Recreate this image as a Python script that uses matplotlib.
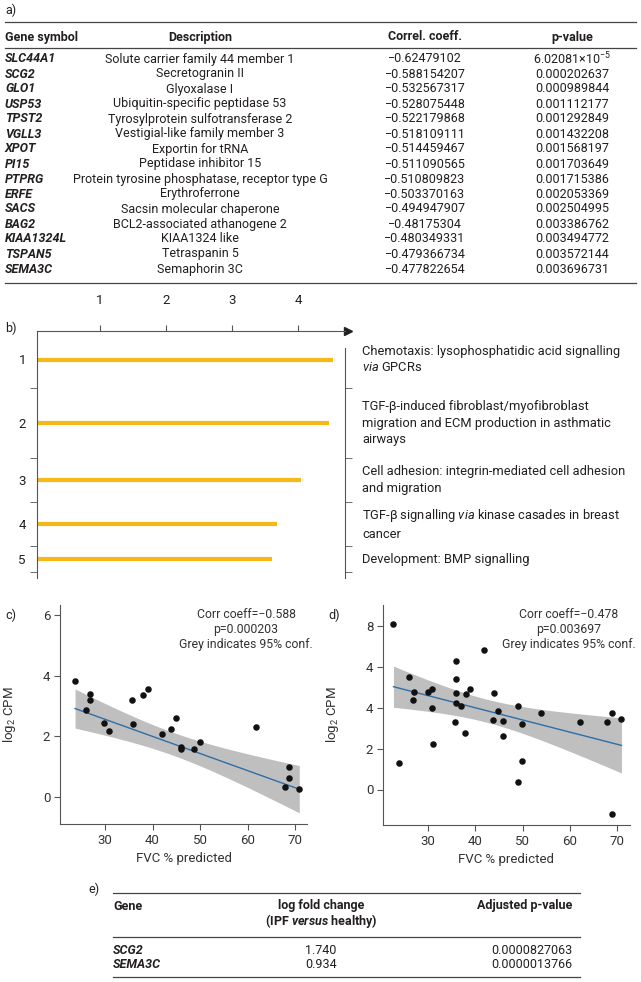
import numpy as np
import matplotlib
matplotlib.use("Agg")
import matplotlib.pyplot as plt
from matplotlib.lines import Line2D

plt.rcParams['font.family'] = ['Roboto', 'DejaVu Sans']
plt.rcParams['mathtext.fontset'] = 'custom'
plt.rcParams['mathtext.rm'] = 'Roboto'
plt.rcParams['mathtext.it'] = 'Roboto:italic'
plt.rcParams['mathtext.bf'] = 'Roboto:bold'
plt.rcParams['mathtext.bfit'] = 'Roboto:italic:bold'

W, H = 641, 982
INK = '#231f20'
AXC = '#555555'
GOLD = '#f5b816'
BLUE = '#2f6ea6'
BAND = '#bfbfbf'

#
# a) genes correlated with FVC
#
a_genes = ['SLC44A1', 'SCG2', 'GLO1', 'USP53', 'TPST2', 'VGLL3', 'XPOT', 'PI15',
           'PTPRG', 'ERFE', 'SACS', 'BAG2', 'KIAA1324L', 'TSPAN5', 'SEMA3C']
a_desc = ['Solute carrier family 44 member 1', 'Secretogranin II', 'Glyoxalase I',
          'Ubiquitin-specific peptidase 53', 'Tyrosylprotein sulfotransferase 2',
          'Vestigial-like family member 3', 'Exportin for tRNA', 'Peptidase inhibitor 15',
          'Protein tyrosine phosphatase, receptor type G', 'Erythroferrone',
          'Sacsin molecular chaperone', 'BCL2-associated athanogene 2', 'KIAA1324 like',
          'Tetraspanin 5', 'Semaphorin 3C']
a_coeff = ['\u22120.62479102', '\u22120.588154207', '\u22120.532567317', '\u22120.528075448',
           '\u22120.522179868', '\u22120.518109111', '\u22120.514459467', '\u22120.511090565',
           '\u22120.510809823', '\u22120.503370163', '\u22120.494947907', '\u22120.48175304',
           '\u22120.480349331', '\u22120.479366734', '\u22120.477822654']
a_pval = ['6.02081\u00d710$^{\u22125}$', '0.000202637', '0.000989844', '0.001112177',
          '0.001292849', '0.001432208', '0.001568197', '0.001703649', '0.001715386',
          '0.002053369', '0.002504995', '0.003386762', '0.003494772', '0.003572144',
          '0.003696731']

#
# b) enriched pathways
#
b_scores = [4.53, 4.47, 4.05, 3.68, 3.61]
b_ranks = ['1', '2', '3', '4', '5']
b_terms = ['Chemotaxis: lysophosphatidic acid signalling\n$\\mathit{via}$ GPCRs',
           'TGF-\u03b2-induced fibroblast/myofibroblast\nmigration and ECM production in asthmatic\nairways',
           'Cell adhesion: integrin-mediated cell adhesion\nand migration',
           'TGF-\u03b2 signalling $\\mathit{via}$ kinase casades in breast\ncancer',
           'Development: BMP signalling']
b_xticks = [1, 2, 3, 4]

#
# c) SCG2 vs FVC
#
c_fvc = [23.7, 26.0, 26.8, 26.8, 29.8, 30.9, 35.6, 35.9, 37.9, 39.1, 42.0,
         43.8, 44.9, 46.0, 46.0, 48.8, 49.9, 61.8, 68.8, 68.8, 67.9, 70.9]
c_cpm = [3.83, 2.86, 3.39, 3.20, 2.45, 2.17, 3.21, 2.41, 3.36, 3.55, 2.09,
         2.25, 2.62, 1.66, 1.58, 1.59, 1.83, 2.31, 1.00, 0.63, 0.32, 0.26]
# fitted line (slope, intercept) and residual sd
c_fit = [-0.0564, 4.256]
c_sd = 0.85
c_text = 'Corr coeff=\u22120.588\np=0.000203\nGrey indicates 95% conf.'
c_yticks = [0, 2, 4, 6]
c_ylabels = ['0', '2', '4', '6']

#
# d) SEMA3C vs FVC
#
d_fvc = [22.7, 23.9, 25.9, 27.0, 26.9, 29.9, 30.8, 30.8, 31.0, 35.9, 35.9, 35.9,
         35.9, 35.8, 37.0, 37.8, 38.0, 38.9, 41.9, 43.9, 43.8, 44.9, 45.9, 45.8,
         49.0, 49.8, 49.9, 49.0, 53.8, 62.1, 67.8, 68.9, 70.9, 69.0]
d_cpm = [8.10, 1.30, 5.51, 4.76, 4.40, 4.80, 4.94, 4.01, 2.23, 6.31, 5.40, 4.71,
         4.26, 3.31, 4.08, 2.77, 4.67, 4.91, 6.84, 4.75, 3.41, 3.85, 3.34, 2.64,
         4.09, 3.19, 1.41, 0.37, 3.73, 3.29, 3.32, 3.77, 3.44, -1.22]
d_fit = [-0.0597, 6.394]
d_sd = 1.62
d_text = 'Corr coeff=\u22120.478\np=0.003697\nGrey indicates 95% conf.'
d_yticks = [0, 2, 4, 6, 8]
d_ylabels = ['0', '2', '4', '4', '8']

fvc_ticks = [30, 40, 50, 60, 70]

#
# e) differential expression
#
e_genes = ['SCG2', 'SEMA3C']
e_lfc = ['1.740', '0.934']
e_padj = ['0.0000827063', '0.0000013766']

# 95% t quantiles for the two fits (df = n - 2)
T_C = 2.086
T_D = 2.037


fig = plt.figure(figsize=(W / 100, H / 100), dpi=100)


def fx(x):
    return x / W


def fy(y):
    return 1 - y / H


def put(x, y, s, **kw):
    kw.setdefault('color', INK)
    kw.setdefault('fontsize', 9)
    kw.setdefault('va', 'center')
    return fig.text(fx(x), fy(y), s, **kw)


def rule(y, x0, x1, lw=0.9):
    fig.add_artist(Line2D([fx(x0), fx(x1)], [fy(y), fy(y)], color='#444444', lw=lw))


def axes_px(left, top, right, bottom):
    return fig.add_axes([fx(left), fy(bottom), (right - left) / W, (bottom - top) / H])


def fit_band(x, fit, sd, t):
    """Regression line with its 95% confidence band over the data range"""
    x = np.asarray(x)
    n = len(x)
    xs = np.linspace(x.min(), x.max(), 100)
    yh = fit[1] + fit[0] * xs
    se = sd * np.sqrt(1 / n + (xs - x.mean()) ** 2 / np.sum((x - x.mean()) ** 2))
    return xs, yh, yh - t * se, yh + t * se


# ---- a) table
put(5, 10, 'a)')
rule(22, 5, 636)
put(5, 37, 'Gene symbol', fontweight='bold')
put(200, 37, 'Description', fontweight='bold', ha='center')
put(425, 37, 'Correl. coeff.', fontweight='bold', ha='center')
put(572, 37, 'p-value', fontweight='bold', ha='center')
rule(48, 5, 636)
for i in range(len(a_genes)):
    y = 59 + 15 * i
    put(5, y, a_genes[i], fontweight='bold', style='italic')
    put(200, y, a_desc[i], ha='center')
    put(425, y, a_coeff[i], ha='center')
    put(572, y, a_pval[i], ha='center')
rule(283, 5, 636)

# ---- b) pathway bars
put(5, 328, 'b)')
b_edges = [331, 388, 458, 502, 546, 572]
b_y = [(b_edges[i] + b_edges[i + 1]) / 2 for i in range(len(b_scores))]
axb = axes_px(37, 331, 345, 578)
x_left = (37 - 34) / 66
axb.set_xlim(x_left, (345 - 34) / 66)
axb.set_ylim(578, 331)
axb.hlines(b_y, x_left, b_scores, color=GOLD, lw=3)
axb.xaxis.tick_top()
axb.set_xticks(b_xticks)
axb.tick_params(axis='x', direction='out', length=4, pad=13, labelsize=9.5,
                color=AXC, labelcolor=INK)
axb.set_yticks(b_y)
axb.set_yticklabels(b_ranks)
axb.tick_params(axis='y', which='major', length=0, pad=8, labelsize=9.5, labelcolor=INK)
axb.set_yticks(b_edges[1:], minor=True)
axb.tick_params(axis='y', which='minor', direction='out', length=5, left=True, right=True,
                color=AXC)
axb.spines['bottom'].set_visible(False)
for side in ['top', 'left', 'right']:
    axb.spines[side].set_color(AXC)
axb.spines['right'].set_bounds(348, 578)
axb.plot([1.01], [1], marker='>', ms=6, color='#222222', transform=axb.transAxes,
         clip_on=False)
for i in range(len(b_terms)):
    put(362, b_y[i], b_terms[i], fontsize=9.3, linespacing=1.35)


# ---- c) and d) scatter panels
def scatter_panel(box, xs, ys, fit, sd, t, txt, yticks, ylabels, xlim, ylim, letter, letter_x):
    ax = axes_px(*box)
    bx, by, blo, bhi = fit_band(xs, fit, sd, t)
    ax.fill_between(bx, blo, bhi, color=BAND, lw=0)
    ax.plot(bx, by, color=BLUE, lw=1)
    ax.scatter(xs, ys, s=22, color='#111111', zorder=3, lw=0)
    ax.set_xlim(*xlim)
    ax.set_ylim(*ylim)
    ax.set_xticks(fvc_ticks)
    ax.set_yticks(yticks)
    ax.set_yticklabels(ylabels)
    ax.tick_params(direction='out', length=4, labelsize=9.5, color=AXC, labelcolor='#333333',
                   pad=3)
    for side in ['top', 'right']:
        ax.spines[side].set_visible(False)
    for side in ['left', 'bottom']:
        ax.spines[side].set_color(AXC)
    ax.set_xlabel('FVC % predicted', fontsize=9.5, color='#333333', labelpad=4)
    ax.set_ylabel('log$_2$ CPM', fontsize=9.5, color='#333333')
    ax.yaxis.set_label_coords(-0.17, 0.5)
    ax.text(0.753, 0.89, txt, transform=ax.transAxes, ha='center', va='center',
            fontsize=8.8, color='#333333', linespacing=1.2)
    put(letter_x, 615, letter)
    return ax


scatter_panel((60, 605, 307, 824), c_fvc, c_cpm, c_fit, c_sd, T_C, c_text, c_yticks, c_ylabels,
              ((60 + 37.5) / 4.75, (307 + 37.5) / 4.75),
              ((797 - 824) / 30.3, (797 - 605) / 30.3), 'c)', 5)
scatter_panel((383, 605, 630, 825), d_fvc, d_cpm, d_fit, d_sd, T_D, d_text, d_yticks, d_ylabels,
              ((383 - 286.1) / 4.73, (630 - 286.1) / 4.73),
              ((789.5 - 825) / 20.4, (789.5 - 605) / 20.4), 'd)', 328)

# ---- e) table
put(88, 889, 'e)')
rule(893, 113, 580)
put(113, 906, 'Gene', fontweight='bold')
put(321, 906, 'log fold change', fontweight='bold', ha='center')
put(321, 921, '(IPF $\\mathbfit{versus}$ healthy)', fontweight='bold', ha='center')
put(572, 906, 'Adjusted p-value', fontweight='bold', ha='right')
rule(937, 113, 580)
for i in range(len(e_genes)):
    y = 950 + 15 * i
    put(113, y, e_genes[i], fontweight='bold', style='italic')
    put(321, y, e_lfc[i], ha='center')
    put(572, y, e_padj[i], ha='right')
rule(977, 113, 580)

fig.savefig('out.png', dpi=100)
